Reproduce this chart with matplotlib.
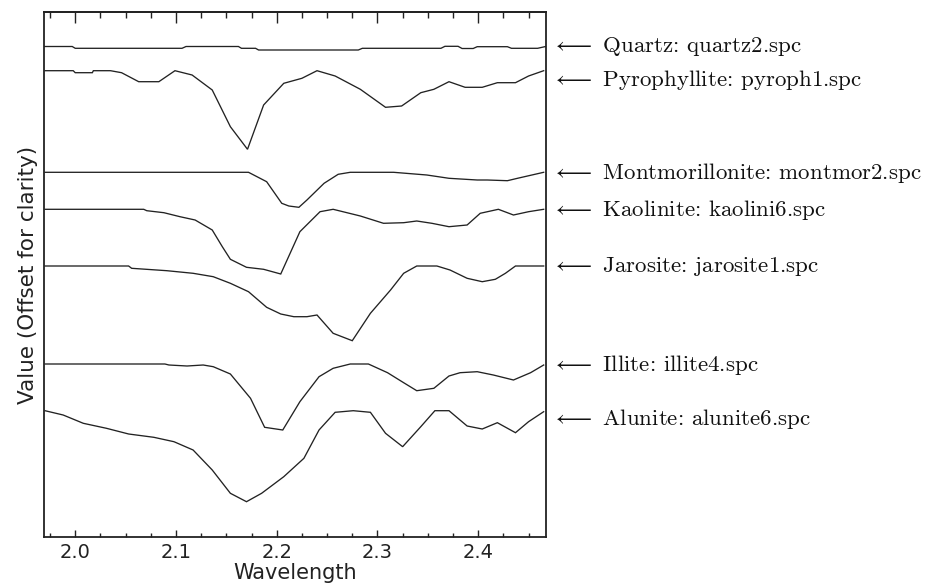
import matplotlib
matplotlib.use("Agg")
import matplotlib.pyplot as plt
from matplotlib.ticker import MultipleLocator, NullFormatter
from matplotlib.transforms import blended_transform_factory

plt.rcParams['mathtext.fontset'] = 'cm'

# ---------------- data (wavelength in micrometres, offset value) ----------------
quartz_w = [1.969, 1.997, 2.000, 2.106, 2.110, 2.162, 2.165, 2.179, 2.182, 2.281, 2.285,
            2.363, 2.367, 2.380, 2.384, 2.395, 2.399, 2.429, 2.433, 2.459, 2.467]
quartz_v = [4.905, 4.905, 4.887, 4.887, 4.905, 4.905, 4.887, 4.887, 4.870, 4.870, 4.887,
            4.887, 4.907, 4.907, 4.885, 4.885, 4.903, 4.903, 4.887, 4.887, 4.905]

pyroph_w = [1.970, 1.998, 2.000, 2.017, 2.018, 2.035, 2.046, 2.063, 2.083, 2.099, 2.116,
            2.136, 2.154, 2.171, 2.187, 2.207, 2.225, 2.240, 2.258, 2.283, 2.308, 2.324,
            2.343, 2.356, 2.371, 2.387, 2.404, 2.419, 2.437, 2.450, 2.465]
pyroph_v = [4.663, 4.663, 4.643, 4.643, 4.663, 4.663, 4.643, 4.553, 4.553, 4.663, 4.620,
            4.470, 4.103, 3.877, 4.320, 4.537, 4.587, 4.663, 4.610, 4.477, 4.297, 4.310,
            4.443, 4.477, 4.553, 4.497, 4.497, 4.543, 4.543, 4.610, 4.663]

montmor_w = [1.970, 2.172, 2.190, 2.205, 2.212, 2.222, 2.230, 2.247, 2.261, 2.273, 2.316,
             2.349, 2.371, 2.399, 2.409, 2.429, 2.439, 2.465]
montmor_v = [3.647, 3.647, 3.553, 3.337, 3.310, 3.297, 3.370, 3.537, 3.627, 3.647, 3.647,
             3.620, 3.587, 3.570, 3.570, 3.563, 3.587, 3.647]

kaolin_w = [1.970, 2.068, 2.071, 2.088, 2.104, 2.119, 2.136, 2.146, 2.154, 2.170, 2.187,
            2.204, 2.223, 2.243, 2.256, 2.283, 2.306, 2.326, 2.339, 2.354, 2.371, 2.389,
            2.402, 2.420, 2.435, 2.450, 2.465]
kaolin_v = [3.277, 3.277, 3.263, 3.243, 3.203, 3.170, 3.070, 2.903, 2.777, 2.697, 2.677,
            2.630, 3.053, 3.253, 3.277, 3.210, 3.137, 3.143, 3.160, 3.137, 3.103, 3.120,
            3.237, 3.277, 3.220, 3.253, 3.277]

jaros_w = [1.970, 2.053, 2.056, 2.091, 2.117, 2.137, 2.154, 2.172, 2.190, 2.204, 2.217,
           2.230, 2.240, 2.256, 2.275, 2.293, 2.313, 2.326, 2.339, 2.359, 2.372, 2.389,
           2.404, 2.417, 2.427, 2.437, 2.465]
jaros_v = [2.710, 2.710, 2.687, 2.663, 2.637, 2.603, 2.537, 2.453, 2.297, 2.230, 2.203,
           2.203, 2.220, 2.037, 1.963, 2.237, 2.470, 2.637, 2.710, 2.710, 2.670, 2.587,
           2.553, 2.577, 2.637, 2.710, 2.710]

illite_w = [1.970, 2.089, 2.093, 2.111, 2.127, 2.137, 2.154, 2.174, 2.188, 2.206, 2.223,
            2.242, 2.256, 2.273, 2.291, 2.310, 2.326, 2.339, 2.356, 2.371, 2.382, 2.399,
            2.415, 2.435, 2.452, 2.465]
illite_v = [1.730, 1.730, 1.720, 1.710, 1.720, 1.703, 1.630, 1.387, 1.097, 1.070, 1.353,
            1.603, 1.687, 1.730, 1.730, 1.643, 1.543, 1.463, 1.487, 1.610, 1.643, 1.653,
            1.620, 1.570, 1.643, 1.720]

alunite_w = [1.970, 1.988, 2.008, 2.031, 2.053, 2.078, 2.098, 2.117, 2.136, 2.154, 2.170,
             2.185, 2.207, 2.227, 2.242, 2.258, 2.276, 2.293, 2.308, 2.325, 2.343, 2.357,
             2.371, 2.389, 2.404, 2.419, 2.437, 2.450, 2.465]
alunite_v = [1.263, 1.220, 1.137, 1.087, 1.030, 0.997, 0.953, 0.870, 0.670, 0.437, 0.353,
             0.437, 0.603, 0.787, 1.070, 1.247, 1.263, 1.247, 1.037, 0.903, 1.103, 1.263,
             1.263, 1.110, 1.080, 1.143, 1.043, 1.153, 1.253]

labels = ["Quartz: quartz2.spc", "Pyrophyllite: pyroph1.spc",
          "Montmorillonite: montmor2.spc", "Kaolinite: kaolini6.spc",
          "Jarosite: jarosite1.spc", "Illite: illite4.spc", "Alunite: alunite6.spc"]
major_ticks = [2.0, 2.1, 2.2, 2.3, 2.4]
tick_labels = ["2.0", "2.1", "2.2", "2.3", "2.4"]

series = [(quartz_w, quartz_v), (pyroph_w, pyroph_v), (montmor_w, montmor_v),
          (kaolin_w, kaolin_v), (jaros_w, jaros_v), (illite_w, illite_v),
          (alunite_w, alunite_v)]
label_shift = [0.0, -0.09, -0.01, -0.01, -0.01, 0.0, -0.07]

# ---------------- figure ----------------
fig = plt.figure(figsize=(9.34, 5.83), dpi=100)
ax = fig.add_axes([44 / 934, 1 - 537 / 583, (545.7 - 44) / 934, (537 - 12) / 583])

for (w, v) in series:
    ax.plot(w, v, color='#222222', lw=0.95, solid_joinstyle='miter')

ax.set_xlim(1.969, 2.467)
ax.set_ylim(0.0, 5.25)

ax.set_xticks(major_ticks)
ax.set_xticklabels(tick_labels)
ax.xaxis.set_minor_locator(MultipleLocator(0.025))
ax.set_yticks([])
ax.tick_params(axis='x', which='major', direction='in', length=5, width=1.0,
               labelsize=14, pad=4, colors='#222222')
ax.tick_params(axis='x', which='minor', direction='in', length=3.2, width=1.0,
               colors='#222222')

top = ax.secondary_xaxis('top')
top.set_xticks(major_ticks)
top.xaxis.set_major_formatter(NullFormatter())
top.xaxis.set_minor_locator(MultipleLocator(0.025))
top.tick_params(axis='x', which='major', direction='in', length=7.7, width=1.0,
                colors='#222222')
top.tick_params(axis='x', which='minor', direction='in', length=4.3, width=1.0,
                colors='#222222')
top.spines['top'].set_linewidth(1.3)
top.spines['top'].set_color('#222222')

for sp in ax.spines.values():
    sp.set_linewidth(1.3)
    sp.set_color('#222222')

ax.set_xlabel("Wavelength", fontsize=15, color='#222222', labelpad=1)
ax.set_ylabel("Value (Offset for clarity)", fontsize=15.5, color='#222222', labelpad=4)

trans = blended_transform_factory(ax.transAxes, ax.transData)
for (w, v), lab, dy in zip(series, labels, label_shift):
    ax.text(1.01, v[-1] + dy, r"$\longleftarrow$ " + lab, transform=trans,
            ha='left', va='center', fontsize=16.5, family='cmr10', color='#111111',
            clip_on=False)

fig.savefig("out.png", dpi=100)
